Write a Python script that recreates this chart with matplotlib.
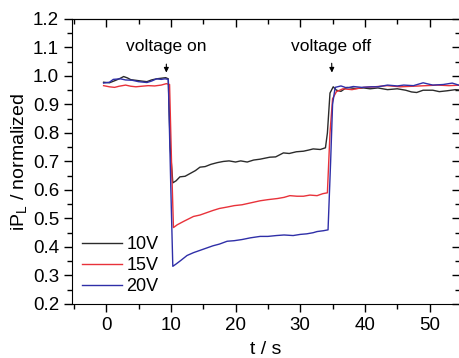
import numpy as np
import matplotlib
matplotlib.use("Agg")
import matplotlib.pyplot as plt
from matplotlib.ticker import MultipleLocator

plt.rcParams['font.family'] = ['Liberation Sans', 'DejaVu Sans']

# ---- data
t_10 = [-0.4, 0.5, 1.5, 2.2, 2.7, 3.3, 3.8, 4.5, 5.5, 6.3, 7.0, 7.8, 8.5, 9.2, 9.6,
        9.9, 10.3, 10.8, 11.4, 12.2, 13.0, 13.8, 14.5, 15.3, 16.2, 17.2, 18.1, 19.0,
        20.0, 20.8, 21.8, 22.8, 23.8, 25.3, 26.2, 27.4, 28.3, 29.4, 30.5, 31.3, 32.0,
        33.1, 33.9, 34.2, 34.6, 35.1, 35.6, 36.3, 37.2, 38.5, 39.8, 40.8, 42.0, 43.5,
        45.0, 46.3, 47.2, 48.0, 49.0, 50.5, 51.5, 52.7, 54.0, 55.0]
v_10 = [0.978, 0.976, 0.985, 0.992, 0.998, 0.993, 0.987, 0.985, 0.982, 0.980, 0.986,
        0.990, 0.992, 0.994, 0.990, 0.75, 0.625, 0.632, 0.646, 0.648, 0.658, 0.668,
        0.680, 0.682, 0.690, 0.696, 0.700, 0.702, 0.698, 0.702, 0.698, 0.705, 0.708,
        0.715, 0.716, 0.730, 0.728, 0.734, 0.736, 0.740, 0.744, 0.742, 0.748, 0.80,
        0.94, 0.962, 0.950, 0.946, 0.960, 0.956, 0.958, 0.955, 0.958, 0.952, 0.955,
        0.950, 0.944, 0.942, 0.950, 0.950, 0.945, 0.948, 0.952, 0.950]

t_15 = [-0.4, 0.5, 1.3, 2.0, 3.0, 3.8, 4.6, 5.5, 6.5, 7.5, 8.5, 9.3, 9.8, 10.1, 10.4,
        11.0, 12.0, 13.5, 14.5, 15.5, 16.5, 17.5, 18.7, 19.8, 21.0, 22.0, 23.8, 25.0,
        26.5, 27.5, 28.4, 29.5, 30.5, 31.5, 32.6, 33.5, 34.2, 34.6, 35.0, 35.6, 36.6,
        38.0, 39.8, 41.5, 43.4, 45.5, 47.5, 49.5, 51.2, 53.0, 55.0]
v_15 = [0.966, 0.962, 0.960, 0.964, 0.968, 0.964, 0.962, 0.964, 0.966, 0.965, 0.968,
        0.973, 0.970, 0.70, 0.468, 0.478, 0.490, 0.507, 0.512, 0.520, 0.528, 0.535,
        0.540, 0.545, 0.548, 0.553, 0.562, 0.566, 0.570, 0.574, 0.580, 0.578, 0.578,
        0.582, 0.580, 0.587, 0.590, 0.80, 0.92, 0.945, 0.955, 0.952, 0.960, 0.962,
        0.966, 0.962, 0.964, 0.966, 0.968, 0.966, 0.968]

t_20 = [-0.4, 0.5, 1.1, 2.2, 3.0, 4.0, 5.0, 6.3, 7.0, 7.8, 8.5, 9.1, 9.6, 10.0, 10.3,
        10.8, 11.5, 12.5, 13.5, 14.5, 15.5, 16.5, 17.5, 18.7, 19.8, 21.0, 22.3, 23.8,
        25.0, 26.3, 27.5, 28.9, 30.0, 31.0, 32.0, 32.6, 33.6, 34.3, 34.7, 35.0, 35.4,
        36.3, 37.2, 38.2, 39.5, 41.0, 42.0, 43.5, 45.0, 46.0, 47.5, 49.0, 50.5, 52.1,
        53.5, 54.5, 55.0]
v_20 = [0.975, 0.978, 0.988, 0.990, 0.986, 0.985, 0.980, 0.977, 0.982, 0.990, 0.988,
        0.990, 0.988, 0.60, 0.332, 0.340, 0.352, 0.370, 0.380, 0.388, 0.396, 0.404,
        0.410, 0.420, 0.422, 0.426, 0.432, 0.437, 0.437, 0.440, 0.442, 0.440, 0.444,
        0.446, 0.450, 0.454, 0.457, 0.46, 0.70, 0.90, 0.960, 0.965, 0.958, 0.963,
        0.960, 0.962, 0.962, 0.968, 0.965, 0.968, 0.966, 0.976, 0.968, 0.970, 0.975,
        0.968, 0.966]

labels = ['10V', '15V', '20V']
colors = ['#2b2b2b', '#e8323a', '#2f2fa8']

# ---- plot
fig = plt.figure(figsize=(4.6, 3.58), dpi=100)
ax = fig.add_axes([0.157, 0.151, 0.843, 0.796])

for t, v, lab, c in zip([t_10, t_15, t_20], [v_10, v_15, v_20], labels, colors):
    ax.plot(t, v, color=c, lw=1.0, label=lab)

ax.set_xlim(-5.25, 54.7)
ax.set_ylim(0.2, 1.2)
ax.xaxis.set_major_locator(MultipleLocator(10))
ax.xaxis.set_minor_locator(MultipleLocator(5))
ax.yaxis.set_major_locator(MultipleLocator(0.1))
ax.yaxis.set_minor_locator(MultipleLocator(0.05))
ax.yaxis.set_major_formatter(plt.FormatStrFormatter('%.1f'))

ax.tick_params(axis='both', which='major', direction='out', length=6, width=1, labelsize=13.5)
ax.tick_params(axis='both', which='minor', direction='out', length=3.5, width=1)

# mirrored ticks on top and right, pointing in (Origin style)
sec_x = ax.secondary_xaxis('top')
sec_x.xaxis.set_major_locator(MultipleLocator(10))
sec_x.xaxis.set_minor_locator(MultipleLocator(5))
sec_x.tick_params(which='major', direction='in', length=6, width=1, labeltop=False)
sec_x.tick_params(which='minor', direction='in', length=3.5, width=1)
sec_y = ax.secondary_yaxis('right')
sec_y.yaxis.set_major_locator(MultipleLocator(0.1))
sec_y.yaxis.set_minor_locator(MultipleLocator(0.05))
sec_y.tick_params(which='major', direction='in', length=6, width=1, labelright=False)
sec_y.tick_params(which='minor', direction='in', length=3.5, width=1)

ax.set_xlabel('t / s', fontsize=14, labelpad=5)
ax.set_ylabel('iP$_\\mathregular{L}$ / normalized', fontsize=14, labelpad=2)

ax.annotate('voltage on', xy=(9.3, 1.012), xytext=(9.3, 1.102), ha='center', va='center',
            fontsize=12.5, arrowprops=dict(arrowstyle='-|>', color='black', lw=0.8,
                                            shrinkA=5, shrinkB=0, mutation_scale=7))
ax.annotate('voltage off', xy=(34.9, 1.012), xytext=(34.8, 1.105), ha='center', va='center',
            fontsize=12.5, arrowprops=dict(arrowstyle='-|>', color='black', lw=0.8,
                                            shrinkA=5, shrinkB=0, mutation_scale=7))

ax.legend(loc='lower left', bbox_to_anchor=(0.025, 0.03), frameon=False, fontsize=13,
          handlelength=2.2, handletextpad=0.25, labelspacing=0.22, borderpad=0,
          borderaxespad=0)

plt.savefig('out.png', dpi=100)
